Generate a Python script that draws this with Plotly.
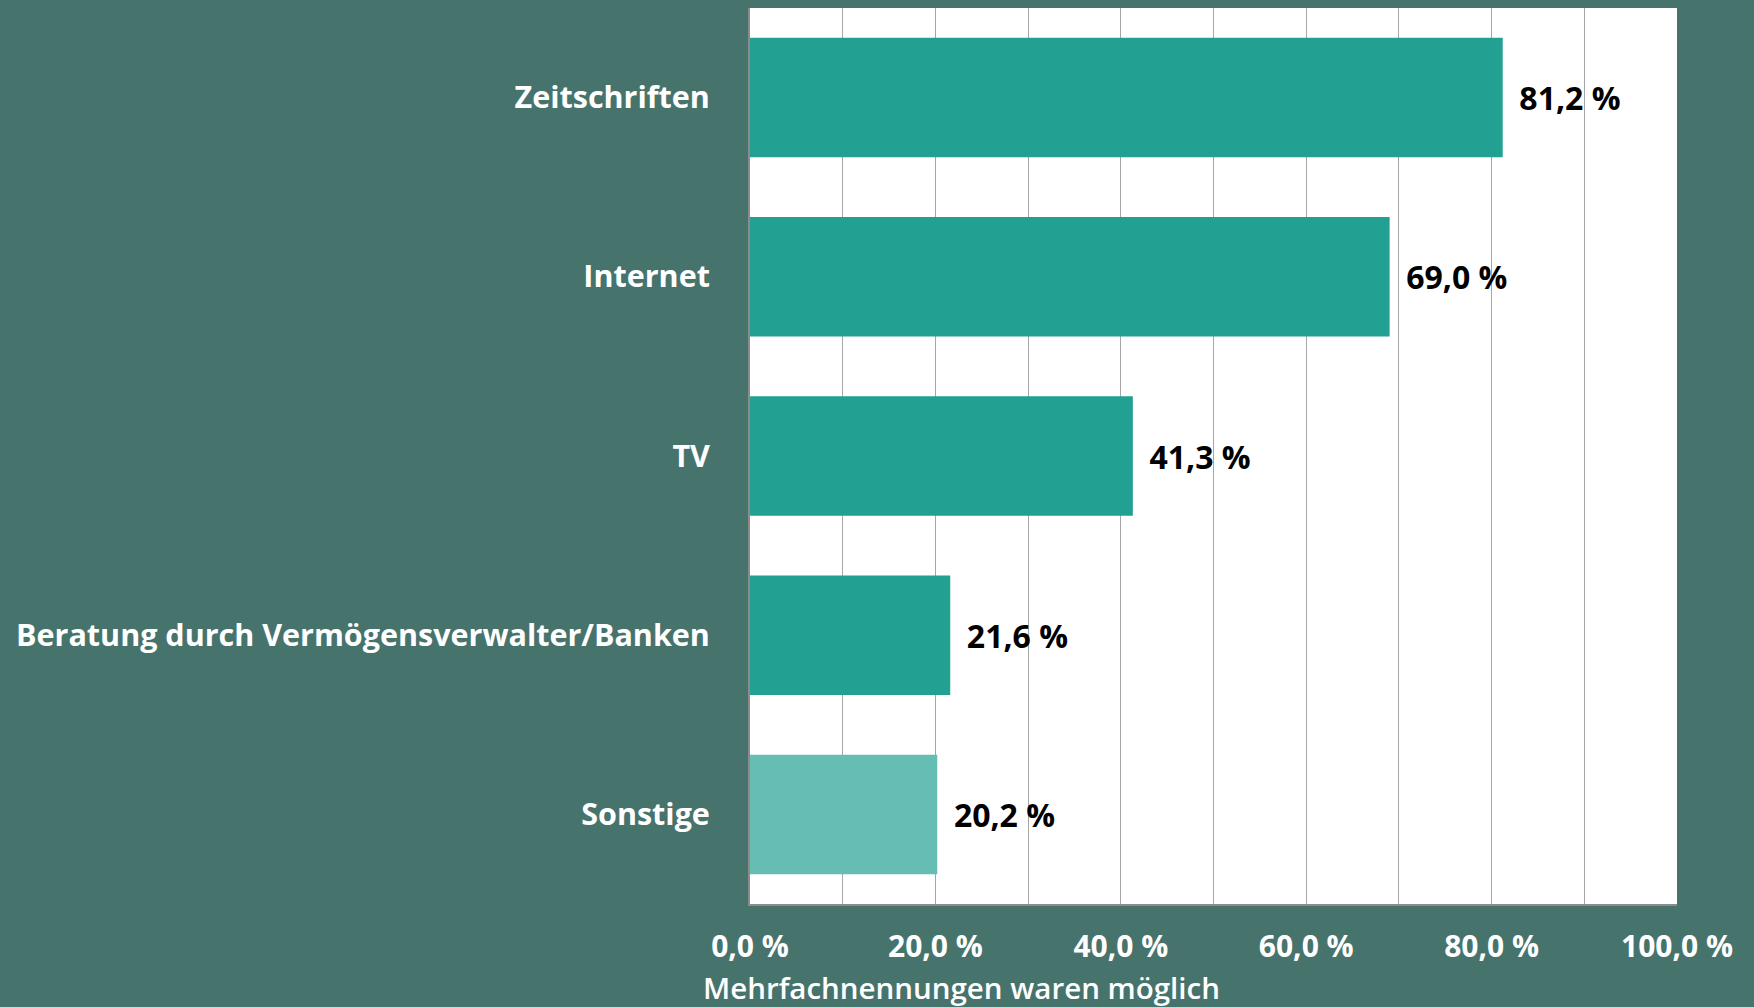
import plotly.graph_objects as go

# Daten
kategorien = ['Zeitschriften', 'Internet', 'TV',
              'Beratung durch Vermögensverwalter/Banken', 'Sonstige']
werte = [81.2, 69.0, 41.3, 21.6, 20.2]
farben = ['#22a091', '#22a091', '#22a091', '#22a091', '#66bdb3']
tick_werte = [0, 20, 40, 60, 80, 100]
tick_texte = ['0,0 %', '20,0 %', '40,0 %', '60,0 %', '80,0 %', '100,0 %']

bg = '#47736d'
font = 'Open Sans'

labels = ['\u00a0\u2009' + f'{v:.1f} %'.replace('.', ',') for v in werte]

fig = go.Figure(go.Bar(
    x=werte,
    y=kategorien,
    orientation='h',
    marker=dict(color=farben, line=dict(width=0)),
    text=labels,
    textposition='outside',
    textfont=dict(family=font, size=32, color='black', weight='bold'),
    cliponaxis=False,
))

fig.update_layout(
    width=1754, height=1007,
    paper_bgcolor=bg,
    plot_bgcolor='white',
    margin=dict(l=750, r=77, t=8, b=103),
    bargap=0.333,
    showlegend=False,
    font=dict(family=font),
)
fig.update_xaxes(
    range=[0, 100],
    tickvals=tick_werte,
    ticktext=tick_texte,
    tickfont=dict(family=font, size=30, color='white', weight='bold'),
    showgrid=True, gridcolor='#a6a6a6', gridwidth=1,
    minor=dict(dtick=10, tick0=0, showgrid=True, gridcolor='#a6a6a6', gridwidth=1),
    showline=True, linecolor='#8c8c8c', linewidth=2,
    ticks='', ticklabelstandoff=15,
    zeroline=False,
)
fig.update_yaxes(
    autorange='reversed',
    tickfont=dict(family=font, size=30.5, color='white', weight='bold'),
    showline=True, linecolor='#8c8c8c', linewidth=2,
    ticks='', ticklabelstandoff=32,
)
fig.add_annotation(
    text='Mehrfachnennungen waren möglich',
    xref='paper', yref='paper', x=-0.053, y=-0.093,
    xanchor='left', yanchor='middle', showarrow=False,
    font=dict(family=font, size=29.5, color='white', weight=600),
)

fig.write_html('out.html', config={'displayModeBar': False},
               post_script="document.body.style.margin='0';")
